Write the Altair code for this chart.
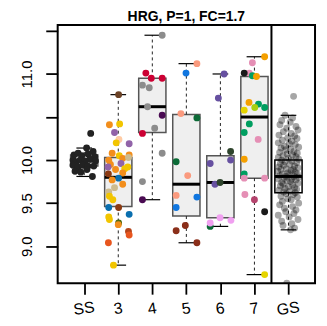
import altair as alt
import pandas as pd

# ---------------- data ----------------
categories = ["SS", "3", "4", "5", "6", "7", "GS"]
positions = [1, 2, 3, 4, 5, 6, 7]

box_q1 = [9.93, 9.46, 10.32, 9.35, 9.33, 9.79, 9.62]
box_med = [9.99, 9.80, 10.62, 9.72, 9.74, 10.50, 9.81]
box_q3 = [10.06, 10.03, 10.95, 10.53, 10.05, 10.97, 10.00]
whisk_lo = [9.81, 8.78, 9.54, 9.04, 9.23, 8.67, 9.19]
whisk_hi = [10.14, 10.76, 11.45, 11.12, 11.00, 11.20, 10.52]

ss_values = [10.31, 10.14, 10.10, 10.06, 10.08, 10.05, 10.07, 10.04, 10.00, 9.98, 10.00,
             9.99, 10.01, 9.99, 9.94, 9.92, 9.94, 9.93, 9.93, 9.87, 9.86, 9.89, 9.81]
ss_jitter = [0.19, 0.07, 0.26, -0.30, -0.18, -0.07, 0.11, 0.31, -0.33, -0.24, -0.12,
             0.02, 0.17, 0.33, -0.33, -0.18, -0.04, 0.11, 0.28, -0.27, -0.10, 0.08, 0.24]

g3_values = [10.76, 10.41, 10.42, 10.32, 10.24, 10.20, 10.19, 10.08, 10.05, 10.02, 10.06, 10.03,
             10.00, 9.96, 9.95, 9.92, 9.92, 9.89, 9.90, 9.84, 9.85, 9.79, 9.77, 9.72, 9.68,
             9.63, 9.58, 9.54, 9.45, 9.45, 9.37, 9.34, 9.31, 9.27, 9.25, 9.17, 9.13, 9.04, 8.78]
g3_jitter = [0.01, -0.26, 0.04, -0.11, 0.02, -0.06, 0.32, -0.18, 0.03, 0.13, 0.32, 0.30,
             -0.28, 0.08, -0.23, 0.28, -0.30, -0.08, 0.19, -0.29, 0.13, 0.01, -0.18, 0.13, -0.11,
             -0.28, -0.26, -0.16, -0.28, 0.01, 0.32, -0.28, -0.26, 0.01, 0.00, 0.30, 0.32, -0.29, -0.14]
g3_colors = ["brown_dark", "orange", "yellow", "purple_l", "peach", "yellow", "purple_l", "orange",
             "yellow", "orange", "orange", "tan", "orange", "purple_l", "orange", "yellow", "purple_l",
             "orange", "yellow", "rust", "orange", "blue", "orange", "orange", "tan", "tan", "yellow",
             "yellow", "blue", "rust", "blue", "yellow", "yellow", "olive", "orange", "rust2",
             "orange_red", "orange_red", "yellow"]

g4_values = [11.45, 11.01, 10.95, 10.95, 10.87, 10.84, 10.62, 10.52, 10.37, 10.31, 10.08, 9.75, 9.54]
g4_jitter = [0.29, -0.19, -0.03, 0.29, -0.29, -0.09, -0.14, 0.29, 0.07, -0.29, 0.29, -0.29, -0.29]
g4_colors = ["gray", "crimson", "crimson", "crimson", "gray", "gray", "gray", "dpurple", "gray",
             "crimson", "gray", "gray", "dpurple"]

g5_values = [11.12, 11.01, 10.54, 10.49, 9.98, 9.82, 9.59, 9.57, 9.45, 9.24, 9.18, 9.04]
g5_jitter = [0.31, -0.01, -0.16, 0.31, -0.30, 0.04, -0.30, 0.31, -0.30, -0.03, -0.30, 0.31]
g5_colors = ["salmon", "blue2", "salmon", "dgreen", "dgreen", "salmon", "salmon", "blue2", "blue2",
             "redbrown", "redbrown", "redbrown"]

g6_values = [11.00, 10.72, 10.10, 10.00, 9.96, 9.72, 9.74, 9.23, 9.27, 9.33, 9.30]
g6_jitter = [0.11, -0.06, 0.30, 0.30, -0.30, -0.16, -0.01, -0.30, -0.30, -0.01, 0.31]
g6_colors = ["purple2", "purple2", "blackgreen", "purple2", "purple2", "purple2", "blackgreen",
             "dgreen", "violet", "violet", "violet"]

g7_values = [11.20, 11.13, 11.01, 11.01, 10.98, 10.97, 10.67, 10.65, 10.61, 10.58, 10.61, 10.42,
             10.32, 10.24, 10.01, 9.84, 9.79, 9.79, 9.60, 9.54, 9.40, 8.67]
g7_jitter = [0.30, -0.06, -0.15, -0.30, -0.06, 0.06, -0.16, 0.12, 0.30, -0.30, 0.01, -0.15,
             -0.30, 0.11, -0.30, -0.30, -0.30, 0.30, -0.28, 0.00, 0.30, 0.30]
g7_colors = ["orange2", "pink", "pink", "black", "green", "orange2", "orange2", "green", "green",
             "yellow2", "ygreen", "green", "green", "pink", "orange2", "green", "pink", "pink",
             "pink", "raspberry", "black", "yellow2"]

gs_values = [
    10.74, 10.52, 10.49, 10.46, 10.44, 10.41, 10.39, 10.37, 10.35, 10.33,
    10.31, 10.29, 10.28, 10.26, 10.25, 10.23, 10.22, 10.20, 10.19, 10.18,
    10.16, 10.15, 10.14, 10.13, 10.12, 10.10, 10.09, 10.08, 10.07, 10.06,
    10.05, 10.04, 10.03, 10.02, 10.01, 10.00, 9.99, 9.98, 9.97, 9.96,
    9.95, 9.94, 9.93, 9.92, 9.91, 9.90, 9.89, 9.89, 9.88, 9.87,
    9.86, 9.85, 9.84, 9.84, 9.83, 9.82, 9.81, 9.81, 9.80, 9.79,
    9.78, 9.78, 9.77, 9.76, 9.75, 9.74, 9.73, 9.72, 9.71, 9.70,
    9.69, 9.68, 9.67, 9.66, 9.65, 9.64, 9.63, 9.62, 9.61, 9.60,
    9.58, 9.57, 9.55, 9.54, 9.52, 9.50, 9.48, 9.46, 9.44, 9.42,
    9.40, 9.38, 9.36, 9.34, 9.31, 9.29, 9.26, 9.24, 9.21, 9.19,
    8.57,
]
gs_jitter = [
    0.15, -0.10, 0.12, -0.20, 0.05, -0.25, 0.22, -0.05, 0.28, -0.15,
    0.08, -0.28, 0.18, -0.02, 0.25, -0.18, 0.10, -0.30, 0.02, 0.20,
    -0.12, 0.30, -0.22, 0.06, -0.08, 0.16, -0.26, 0.26, -0.04, 0.12,
    -0.16, 0.22, -0.30, 0.00, 0.30, -0.20, 0.10, -0.10, 0.24, -0.24,
    0.04, -0.14, 0.18, -0.28, 0.28, -0.06, 0.14, -0.22, 0.08, -0.32,
    0.20, -0.02, 0.26, -0.18, 0.02, -0.26, 0.16, -0.08, 0.30, -0.12,
    0.10, -0.30, 0.22, -0.04, 0.06, -0.20, 0.28, -0.16, 0.12, -0.24,
    0.00, 0.18, -0.10, 0.24, -0.28, 0.04, -0.14, 0.20, -0.06, 0.14,
    -0.22, 0.26, -0.02, 0.08, -0.18, 0.30, -0.26, 0.12, -0.12, 0.22,
    -0.08, 0.16, -0.30, 0.02, 0.28, -0.20, 0.10, -0.16, 0.18, 0.06,
    -0.05,
]

palette = {
    "brown_dark": "#6B4226", "orange": "#F28E1C", "yellow": "#F2C500", "purple_l": "#9163A8",
    "peach": "#FFCBA4", "tan": "#CDBB8E", "rust": "#8B3A12", "blue": "#0A6FAF",
    "olive": "#4F6B11", "rust2": "#B4441A", "orange_red": "#E8561E", "crimson": "#CC0033",
    "gray": "#8C8C8C", "dpurple": "#4A0B52", "salmon": "#FA9A7E", "blue2": "#1177E0",
    "dgreen": "#0C6B37", "redbrown": "#8B2F1A", "purple2": "#6650A0", "blackgreen": "#2E442C",
    "violet": "#F0A0F0", "orange2": "#F5A000", "pink": "#E58FB5", "black": "#1A1A1A",
    "green": "#009E60", "yellow2": "#E5D400", "ygreen": "#A8D010", "raspberry": "#B5446E",
}

# ---------------- tables ----------------
box_df = pd.DataFrame({"cat": categories, "pos": positions, "q1": box_q1, "med": box_med,
                       "q3": box_q3, "lo": whisk_lo, "hi": whisk_hi})
BW = 0.4   # half box width
CW = 0.23  # half cap width
box_df["xl"] = box_df["pos"] - BW
box_df["xr"] = box_df["pos"] + BW
box_df["cl"] = box_df["pos"] - CW
box_df["cr"] = box_df["pos"] + CW

whisk_df = pd.concat([
    pd.DataFrame({"cat": categories, "pos": positions, "a": box_q3, "b": whisk_hi}),
    pd.DataFrame({"cat": categories, "pos": positions, "a": box_q1, "b": whisk_lo}),
])
cap_df = pd.concat([
    box_df[["cat", "cl", "cr"]].assign(v=whisk_hi),
    box_df[["cat", "cl", "cr"]].assign(v=whisk_lo),
])

col_rows = []
for pos, vals, jit, cols in [(2, g3_values, g3_jitter, g3_colors), (3, g4_values, g4_jitter, g4_colors),
                             (4, g5_values, g5_jitter, g5_colors), (5, g6_values, g6_jitter, g6_colors),
                             (6, g7_values, g7_jitter, g7_colors)]:
    for v, j, c in zip(vals, jit, cols):
        col_rows.append({"x": pos + j, "v": v, "c": c})
col_df = pd.DataFrame(col_rows)
ss_df = pd.DataFrame([{"x": 1 + j, "v": v} for v, j in zip(ss_values, ss_jitter)])
gs_df = pd.DataFrame([{"x": 7 + j, "v": v} for v, j in zip(gs_values, gs_jitter)])

# ---------------- scales / axes ----------------
FONT = "Liberation Sans"
xscale = alt.Scale(domain=[0.22, 7.78], nice=False, zero=False)
yscale = alt.Scale(domain=[8.57, 11.57], nice=False, zero=False)
lab_arr = "[" + ",".join("'" + c + "'" for c in categories) + "]"
xaxis = alt.Axis(values=positions, labelExpr=lab_arr + "[datum.value - 1]", domain=False, grid=False,
                 tickSize=11, tickWidth=1.8, tickColor="black", labelFont=FONT, labelFontSize=16,
                 labelColor="black", labelAngle=352, labelAlign="center", labelBaseline="alphabetic",
                 labelPadding=19, labelOverlap=False, labelFlush=False, title=None)
yaxis = alt.Axis(values=[9.0, 9.5, 10.0, 10.5, 11.0, 11.5],
                 labelExpr="(datum.value == 10.5 || datum.value == 11.5) ? '' : format(datum.value, '.1f')",
                 domain=False, grid=False, tickSize=12, tickWidth=1.8, tickColor="black",
                 labelFont=FONT, labelFontSize=15, labelColor="black", labelAngle=270,
                 labelAlign="center", labelBaseline="alphabetic", labelPadding=14,
                 labelOverlap=False, labelFlush=False, title=None)


def X(f):
    return alt.X(f, type="quantitative", scale=xscale, axis=xaxis)


def Y(f):
    return alt.Y(f, type="quantitative", scale=yscale, axis=yaxis)


main_box = box_df[box_df["cat"] != "GS"]
gs_box = box_df[box_df["cat"] == "GS"]

boxes = alt.Chart(main_box).mark_rect(fill="#EFEFEF", stroke="#555555", strokeWidth=1.5).encode(
    x=X("xl"), x2="xr", y=Y("q1"), y2="q3")
whiskers = alt.Chart(whisk_df).mark_rule(color="#222222", strokeWidth=1, strokeDash=[3, 3]).encode(
    x=X("pos"), y=Y("a"), y2="b")
caps = alt.Chart(cap_df).mark_rule(color="black", strokeWidth=1.2).encode(
    x=X("cl"), x2="cr", y=Y("v"))
medians = alt.Chart(main_box).mark_rule(color="black", strokeWidth=3).encode(
    x=X("xl"), x2="xr", y=Y("med"))

ss_pts = alt.Chart(ss_df).mark_circle(size=48, opacity=1, color="#222222", clip=True).encode(
    x=X("x"), y=Y("v"))
col_pts = alt.Chart(col_df).mark_circle(size=48, opacity=1, clip=True).encode(
    x=X("x"), y=Y("v"),
    color=alt.Color("c:N", scale=alt.Scale(domain=list(palette.keys()), range=list(palette.values())),
                    legend=None))
gs_pts = alt.Chart(gs_df).mark_circle(size=48, opacity=0.35, color="black", clip=True).encode(
    x=X("x"), y=Y("v"))

gs_boxes = alt.Chart(gs_box).mark_rect(fill="transparent", stroke="black", strokeWidth=1.5).encode(
    x=X("xl"), x2="xr", y=Y("q1"), y2="q3")
gs_med = alt.Chart(gs_box).mark_rule(color="black", strokeWidth=3).encode(
    x=X("xl"), x2="xr", y=Y("med"))

divider = alt.Chart(pd.DataFrame({"d": [6.5]})).mark_rule(color="black", strokeWidth=2).encode(
    x=X("d"))

chart = alt.layer(
    boxes, whiskers, caps, medians, ss_pts, col_pts, gs_pts, gs_boxes, gs_med, divider
).properties(
    width=259, height=260,
    title=alt.Title("HRG, P=1, FC=1.7", font=FONT, fontSize=14, fontWeight="bold", color="black",
                    anchor="middle", frame="group", offset=0),
    autosize=alt.AutoSizeParams(type="none"),
    padding={"left": 50, "top": 16, "right": 4, "bottom": 36},
).configure_view(stroke="black", strokeWidth=2)

chart.save("out.html", embed_options={"renderer": "svg", "actions": False})
